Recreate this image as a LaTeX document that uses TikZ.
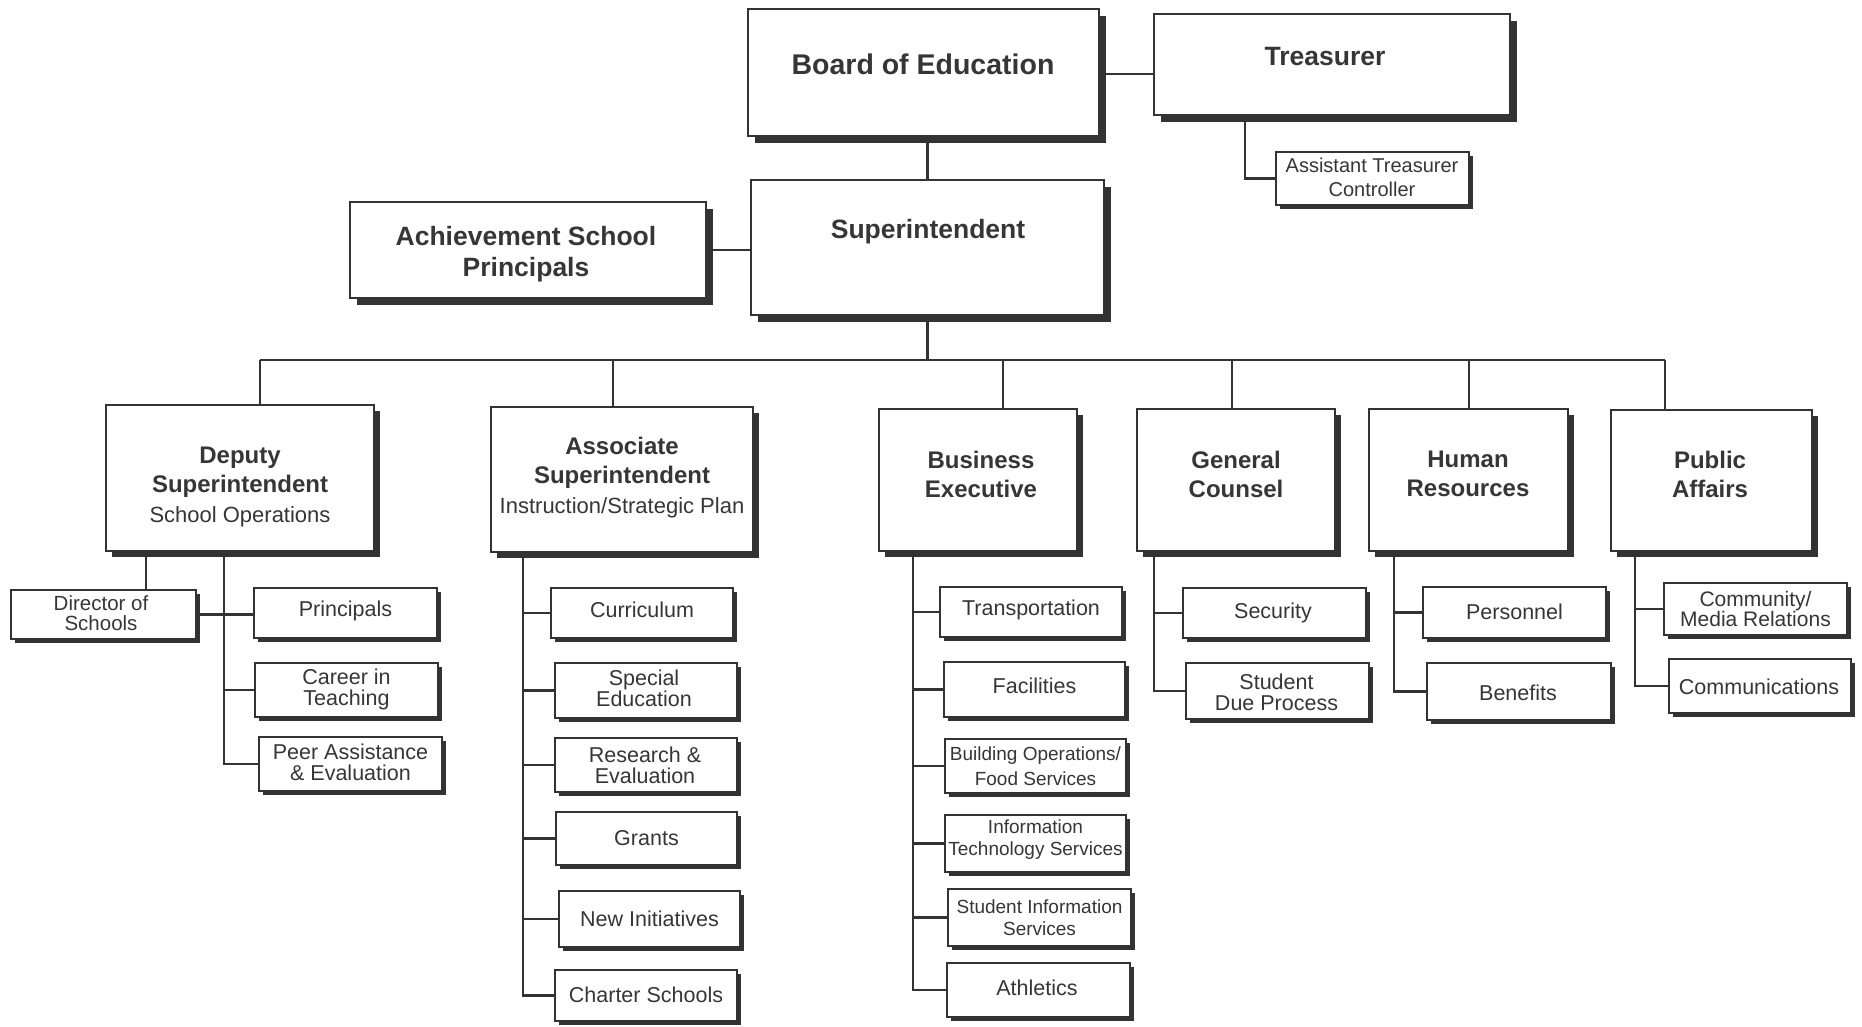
\documentclass[tikz,border=0pt]{standalone}
\usepackage{fontspec}
\setmainfont{Liberation Sans}
\usetikzlibrary{shadows}
\definecolor{ink}{HTML}{333333}
\definecolor{txt}{HTML}{363636}

% box from its corners: style, name, x1, y1, x2, y2
\newcommand\orgbox[6]{%
  \node[#1, minimum width={#5-#3}, minimum height={#6-#4}] (#2) at ({(#3+#5)/2},{(#4+#6)/2}) {};}

\begin{document}
\begin{tikzpicture}[x=1pt,y=-1pt,
  conn/.style={draw=ink, line width=2.2pt},
  frame/.style={draw=ink, fill=white, inner sep=0pt, outer sep=0pt},
  topbox/.style={frame, line width=2.3pt, general shadow={fill=ink, shadow xshift=6.5pt, shadow yshift=-6.5pt}},
  midbox/.style={frame, line width=2.3pt, general shadow={fill=ink, shadow xshift=6pt, shadow yshift=-6pt}},
  subbox/.style={frame, line width=2pt, general shadow={fill=ink, shadow xshift=4pt, shadow yshift=-4pt}},
  lbl/.style={text=txt, align=center, inner sep=0pt},
  headA/.style={lbl, font=\bfseries\fontsize{28.5}{33}\selectfont},
  headB/.style={lbl, font=\bfseries\fontsize{26.5}{31}\selectfont},
  headC/.style={lbl, font=\bfseries\fontsize{24}{29}\selectfont},
  unit/.style={lbl, font=\fontsize{21.5}{21}\selectfont},
  unitsm/.style={lbl, font=\fontsize{19}{22}\selectfont},
]
\fill[white] (0,0) rectangle (1862,1026);
\useasboundingbox (0,0) rectangle (1862,1026);

% ---- top level ----
\orgbox{topbox}{board}{748}{9}{1099}{136}
\orgbox{topbox}{treas}{1154}{14}{1510}{115}
\orgbox{subbox}{asst}{1276}{152}{1469}{205}
\orgbox{topbox}{supt}{751}{180}{1104}{315}
\orgbox{topbox}{ach}{350}{202}{706}{298}

\node[headA] (boardT) at (923,64) {Board of Education};
\node[headB] (treasT) at (1325,57) {Treasurer};
\node[lbl, font=\fontsize{20}{24}\selectfont] (asstT) at (1372,177) {Assistant Treasurer\\Controller};
\node[headB] (suptT) at (928,232) {Superintendent};
\node[headB] (achT) at (526,254) {Achievement School\\Principals};

% ---- second level ----
\orgbox{midbox}{dep}{106}{405}{374}{551}
\orgbox{midbox}{assoc}{491}{407}{753}{552}
\orgbox{midbox}{bus}{879}{409}{1077}{551}
\orgbox{midbox}{gc}{1137}{409}{1335}{551}
\orgbox{midbox}{hr}{1369}{409}{1568}{551}
\orgbox{midbox}{pa}{1611}{410}{1812}{551}

\node[headC] (depT) at (240,487) {Deputy\\Superintendent\\[1pt]\mdseries\fontsize{22}{29}\selectfont School Operations};
\node[headC] (assocT) at (622,478) {Associate\\Superintendent\\[1pt]\mdseries\fontsize{22}{29}\selectfont Instruction/Strategic Plan};
\node[headC] (busT) at (981,474) {Business\\Executive};
\node[headC] (gcT) at (1236,474) {General\\Counsel};
\node[headC] (hrT) at (1468,474) {Human\\Resources};
\node[headC] (paT) at (1710,474) {Public\\Affairs};

% ---- third level: school operations ----
\orgbox{subbox}{dir}{11}{590}{196}{639}
\orgbox{subbox}{prin}{254}{588}{437}{638}
\orgbox{subbox}{career}{255}{663}{438}{717}
\orgbox{subbox}{peer}{259}{737}{442}{791}
\node[lbl, font=\fontsize{20.5}{20}\selectfont] (dirT) at (101,613) {Director of\\Schools};
\node[unit] (prinT) at (345.5,611) {Principals};
\node[unit] (careerT) at (346.5,689) {Career in\\Teaching};
\node[unit] (peerT) at (350.5,762) {Peer Assistance\\\&~Evaluation};

% ---- third level: instruction ----
\orgbox{subbox}{curr}{551}{588}{733}{638}
\orgbox{subbox}{sped}{555}{663}{737}{718}
\orgbox{subbox}{res}{555}{738}{737}{792}
\orgbox{subbox}{grants}{556}{812}{737}{865}
\orgbox{subbox}{newi}{559}{891}{740}{947}
\orgbox{subbox}{charter}{555}{970}{737}{1021}
\node[unit] (currT) at (642,610) {Curriculum};
\node[unit] (spedT) at (644,688) {Special\\Education};
\node[unit] (resT) at (645,765) {Research \&\\Evaluation};
\node[unit] (grantsT) at (646.5,838) {Grants};
\node[unit] (newiT) at (649.5,919) {New Initiatives};
\node[unit] (charterT) at (646,995) {Charter Schools};

% ---- third level: business ----
\orgbox{subbox}{trans}{940}{587}{1122}{637}
\orgbox{subbox}{fac}{944}{662}{1125}{717}
\orgbox{subbox}{bldg}{945}{739}{1126}{793}
\orgbox{subbox}{it}{945}{815}{1126}{872}
\orgbox{subbox}{sis}{948}{889}{1131}{946}
\orgbox{subbox}{ath}{947}{963}{1130}{1017}
\node[unit] (transT) at (1031,610) {Transportation};
\node[unit] (facT) at (1034.5,686) {Facilities};
\node[unitsm, font=\fontsize{19}{25}\selectfont] (bldgT) at (1035.5,766) {Building Operations/\\Food Services};
\node[unitsm] (itT) at (1035.5,840) {Information\\Technology Services};
\node[unitsm] (sisT) at (1039.5,918) {Student Information\\Services};
\node[unit] (athT) at (1037,988) {Athletics};

% ---- third level: counsel, personnel, public affairs ----
\orgbox{subbox}{sec}{1183}{588}{1366}{638}
\orgbox{subbox}{sdp}{1186}{663}{1369}{719}
\orgbox{subbox}{pers}{1423}{587}{1606}{638}
\orgbox{subbox}{ben}{1427}{663}{1611}{720}
\orgbox{subbox}{cmr}{1664}{583}{1847}{635}
\orgbox{subbox}{comm}{1669}{659}{1851}{713}
\node[unit] (secT) at (1273,613) {Security};
\node[unit] (sdpT) at (1276.5,692) {Student\\Due Process};
\node[unit] (persT) at (1514.5,612) {Personnel};
\node[unit] (benT) at (1518,693) {Benefits};
\node[lbl, font=\fontsize{21}{19.5}\selectfont] (cmrT) at (1755.5,609) {Community/\\Media Relations};
\node[unit] (commT) at (1759,687) {Communications};

% ---- connectors: top ----
\draw[conn] (supt.north) -- (supt.north |- board.south);
\draw[conn] (board.east |- 0,74) -- (treas.west |- 0,74);
\coordinate (trS) at (1245,0 |- treas.south);
\draw[conn] (trS) |- (asst.west);
\draw[conn] (ach.east) -- (ach.east -| supt.west);

% ---- connectors: bus to second level ----
\coordinate (bus1) at (260,360);
\coordinate (bus2) at (613,360);
\coordinate (bus3) at (1003,360);
\coordinate (bus4) at (1232,360);
\coordinate (bus5) at (1469,360);
\coordinate (bus6) at (1665,360);
\draw[conn] (supt.south) -- (supt.south |- bus1);
\draw[conn] (bus1) -- (bus6);
\draw[conn] (bus1) -- (bus1 |- dep.north);
\draw[conn] (bus2) -- (bus2 |- assoc.north);
\draw[conn] (bus3) -- (bus3 |- bus.north);
\draw[conn] (bus4) -- (bus4 |- gc.north);
\draw[conn] (bus5) -- (bus5 |- hr.north);
\draw[conn] (bus6) -- (bus6 |- pa.north);

% ---- connectors: school operations ----
\coordinate (depS) at (224,0 |- dep.south);
\coordinate (dirS) at (146,0 |- dep.south);
\draw[conn] (dirS) -- (dirS |- dir.north);
\draw[conn] (dir.east) -- (dir.east -| prin.west);
\draw[conn] (depS) |- (peer.west);
\draw[conn] (depS |- career.west) -- (career.west);

% ---- connectors: instruction ----
\coordinate (asS) at (523,0 |- assoc.south);
\draw[conn] (asS) |- (charter.west);
\foreach \n in {curr,sped,res,grants,newi}
  \draw[conn] (asS |- \n.west) -- (\n.west);

% ---- connectors: business ----
\coordinate (buS) at (913,0 |- bus.south);
\draw[conn] (buS) |- (ath.west);
\foreach \n in {trans,fac,bldg,it,sis}
  \draw[conn] (buS |- \n.west) -- (\n.west);

% ---- connectors: counsel, personnel, public affairs ----
\coordinate (gcS) at (1154,0 |- gc.south);
\draw[conn] (gcS) |- (sdp.west);
\draw[conn] (gcS |- sec.west) -- (sec.west);
\coordinate (hrS) at (1394,0 |- hr.south);
\draw[conn] (hrS) |- (ben.west);
\draw[conn] (hrS |- pers.west) -- (pers.west);
\coordinate (paS) at (1635,0 |- pa.south);
\draw[conn] (paS) |- (comm.west);
\draw[conn] (paS |- cmr.west) -- (cmr.west);
\end{tikzpicture}
\end{document}
